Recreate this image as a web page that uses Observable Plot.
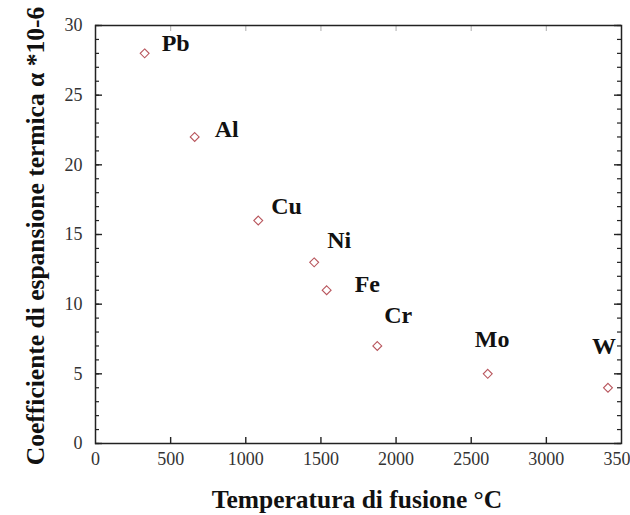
<!DOCTYPE html>
<html>
<head>
<meta charset="utf-8">
<script src="https://cdn.jsdelivr.net/npm/d3@7"></script>
<script src="https://cdn.jsdelivr.net/npm/@observablehq/plot@0.6"></script>
<style>
  html, body { margin: 0; padding: 0; background: #fff; }
  #chart { width: 630px; height: 515px; }
</style>
</head>
<body>
<div id="chart"></div>
<script>
const elements = ["Pb", "Al", "Cu", "Ni", "Fe", "Cr", "Mo", "W"];
const meltingC = [327, 660, 1083, 1455, 1538, 1875, 2610, 3410];
const expansion = [28, 22, 16, 13, 11, 7, 5, 4];
const xTicks = [0, 500, 1000, 1500, 2000, 2500, 3000, 3500];
const yTicks = [0, 5, 10, 15, 20, 25, 30];
const yMinorTicks = d3.range(0, 31, 1);

// label placement offsets (pixels) relative to each point
const labelDx = [17, 20, 13, 13, 28, 7, -13, -16];
const labelDy = [-10, -8, -14, -22, -6, -31, -35, -41];

const data = elements.map((e, i) => ({el: e, t: meltingC[i], a: expansion[i]}));

const serif = "Liberation Serif";
const markerColor = "#b8555c";

const W = 630, H = 515, mL = 95, mR = 9, mT = 25, mB = 72;
const plotW = W - mL - mR, plotH = H - mT - mB;
const xDomain = [0, 3500], yDomain = [0, 30];
// convert a tick length in pixels to data units along each axis
const xLen = px => px * (xDomain[1] - xDomain[0]) / plotW;
const yLen = px => px * (yDomain[1] - yDomain[0]) / plotH;

const labelMarks = data.map((d, i) => Plot.text([d], {
  x: "t", y: "a", text: "el",
  dx: labelDx[i], dy: labelDy[i],
  textAnchor: "start",
  fontSize: 24, fontWeight: "bold", fontFamily: serif, fill: "#111"
}));

const inner = xTicks.slice(1, -1);

const chart = Plot.plot({
  width: W,
  height: H,
  marginLeft: mL,
  marginRight: mR,
  marginTop: mT,
  marginBottom: mB,
  style: {fontFamily: serif, background: "#fff"},
  x: {domain: xDomain},
  y: {domain: yDomain},
  marks: [
    // tick labels
    Plot.axisX({ticks: xTicks, tickSize: 0, tickPadding: 9, fontSize: 18, fontFamily: serif, fill: "#333", label: null, tickFormat: d => String(d)}),
    Plot.axisY({ticks: yTicks, tickSize: 0, tickPadding: 13, fontSize: 18, fontFamily: serif, fill: "#333", label: null}),
    // inward major ticks on x (bottom dark, top faint)
    Plot.ruleX(inner, {x: d => d, y1: yDomain[0], y2: yDomain[0] + yLen(6), stroke: "#222", strokeWidth: 1.4}),
    Plot.ruleX(inner, {x: d => d, y1: yDomain[1] - yLen(6), y2: yDomain[1], stroke: "#bbb", strokeWidth: 1.2}),
    // inward major ticks on y (left and right)
    Plot.ruleY(yTicks, {y: d => d, x1: xDomain[0], x2: xDomain[0] + xLen(7), stroke: "#222", strokeWidth: 1.4}),
    Plot.ruleY(yTicks, {y: d => d, x1: xDomain[1] - xLen(7), x2: xDomain[1], stroke: "#222", strokeWidth: 1.4}),
    // inward minor ticks on y
    Plot.ruleY(yMinorTicks, {y: d => d, x1: xDomain[0], x2: xDomain[0] + xLen(4), stroke: "#222", strokeWidth: 1.2}),
    Plot.ruleY(yMinorTicks, {y: d => d, x1: xDomain[1] - xLen(4), x2: xDomain[1], stroke: "#222", strokeWidth: 1.2}),
    Plot.frame({stroke: "#222", strokeWidth: 1.5, fill: "none"}),
    Plot.dot(data, {x: "t", y: "a", symbol: "diamond2", r: 4, stroke: markerColor, strokeWidth: 1.1, fill: "none"}),
    ...labelMarks
  ]
});

// axis titles as SVG text
const svg = d3.select(chart);
svg.append("text")
  .attr("x", 357).attr("y", 508)
  .attr("text-anchor", "middle")
  .attr("font-family", serif)
  .attr("font-weight", "bold").attr("font-size", 25.5)
  .attr("fill", "#111")
  .text("Temperatura di fusione °C");
svg.append("text")
  .attr("transform", "translate(44,236) rotate(-90)")
  .attr("text-anchor", "middle")
  .attr("font-family", serif)
  .attr("font-weight", "bold").attr("font-size", 25.5)
  .attr("fill", "#111")
  .text("Coefficiente di espansione termica α *10-6");

document.getElementById("chart").appendChild(chart);
</script>
</body>
</html>
